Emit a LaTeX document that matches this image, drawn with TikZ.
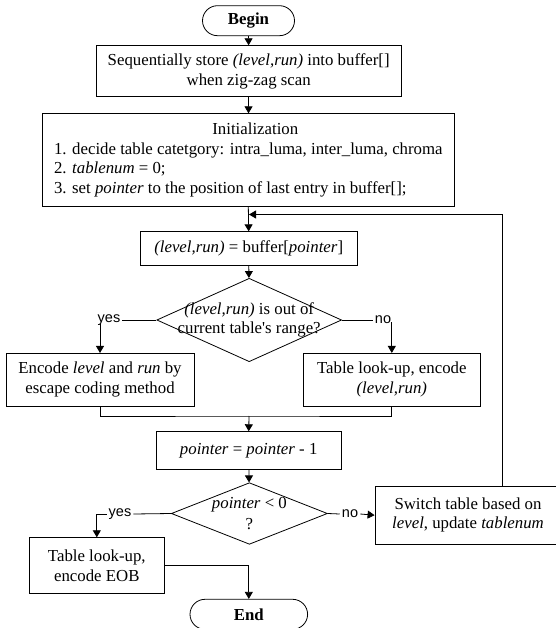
\documentclass[tikz,border=0pt]{standalone}
\usepackage{fontspec}
\setmainfont{Liberation Serif}
\newfontfamily\sansf{Liberation Sans}
\newfontfamily\straightq[Ligatures=TeXOff]{Liberation Serif}
\usetikzlibrary{arrows.meta,shapes.geometric}
\begin{document}
\begin{tikzpicture}[x=1pt,y=-1pt,
  every node/.style={font=\fontsize{16.8}{19.5}\selectfont, inner sep=0pt},
  box/.style={draw, line width=0.8pt, align=center},
  stad/.style={draw, line width=0.8pt, rounded corners=15pt, font=\fontsize{16.8}{19.5}\selectfont\bfseries},
  dia/.style={draw, line width=0.8pt, shape=diamond, inner sep=0pt},
  lbl/.style={font=\sansf\fontsize{14.5}{16}\selectfont},
  conn/.style={line width=0.8pt},
  arr/.style={conn, -{Triangle[length=7pt,width=8pt]}}]
\useasboundingbox (0,0) rectangle (555,628);
\node[stad, minimum width=92pt, minimum height=30pt] (begin) at (248.5,20.7) {Begin};
\node[box, minimum width=304.7pt, minimum height=51pt] (box1) at (248.7,71.2)
  {Sequentially store \textit{(level,run)} into buffer[]\\ when zig-zag scan};
\node[box, minimum width=411.6pt, minimum height=92.3pt] (box2) at (248.3,159.9)
  {\begin{tabular}{@{}l@{}}\multicolumn{1}{c}{\hspace{14pt}Initialization}\\
   1. decide table catetgory: intra\_luma, inter\_luma, chroma\\
   2. \textit{tablenum} = 0;\\
   3. set \textit{pointer} to the position of last entry in buffer[];\end{tabular}};
\node[box, minimum width=217pt, minimum height=33.3pt] (box3) at (248.7,248.4)
  {\textit{(level,run)} = buffer[\textit{pointer}]};
\node[dia, minimum width=184.8pt, minimum height=83.4pt] (d1) at (249.2,320) {};
\node[align=center] (t1) at (d1.center) {\textit{(level,run)} is out of\\ current table{\straightq '}s range?};
\node[box, minimum width=188pt, minimum height=52.7pt] (box4) at (100,379.7)
  {Encode \textit{level} and \textit{run} by\\ escape coding method};
\node[box, minimum width=177pt, minimum height=52.7pt] (box5) at (391.8,379.7)
  {Table look-up, encode\\ \textit{(level,run)}};
\node[box, minimum width=185.1pt, minimum height=37.6pt] (box6) at (248.7,450.5)
  {\textit{pointer} = \textit{pointer} - 1};
\node[dia, minimum width=156.1pt, minimum height=61.6pt] (d2) at (249.4,513.5) {};
\node[align=center] (t2) at (d2.center) {\textit{pointer} {\textless} 0\\[2pt] ?};
\node[box, minimum width=135.6pt, minimum height=55.6pt] (box7) at (96.8,565.5)
  {Table look-up,\\ encode EOB};
\node[stad, minimum width=117.6pt, minimum height=30pt] (end) at (248.8,614.3) {End};
\node[box, minimum width=186pt, minimum height=58.3pt] (box8) at (468,515.2)
  {Switch table based on\\ \textit{level}, update \textit{tablenum}};
% labels
\node[lbl] (yes1) at (109,320) {yes};
\node[lbl] (no1) at (383,320) {no};
\node[lbl] (yes2) at (120,514) {yes};
\node[lbl] (no2) at (350,514) {no};
\coordinate (j) at (249,214.5);
\coordinate (lp) at (502,214.5);
\coordinate (m) at (249,416);
% connectors
\draw[arr] (begin) -- (box1);
\draw[arr] (box1) -- (box2);
\draw[arr] (box2.south) -- (box3.north);
\draw[arr] (box8.north -| lp) -- (lp) -- (j);
\draw[arr] (box3) -- (d1);
\draw[conn] (d1.west) -- ([xshift=2pt]yes1.east);
\draw[arr] ([yshift=2pt]box4.north |- yes1.south) -- (box4.north);
\draw[conn] (d1.east) -- ([xshift=-2pt]no1.west);
\draw[arr] ([yshift=2pt]box5.north |- no1.south) -- (box5.north);
\draw[conn] (box4.south) |- (m) -| (box5.south);
\draw[arr] (m) -- (box6.north);
\draw[arr] (box6) -- (d2);
\draw[conn] (d2.west) -- ([xshift=2pt]yes2.east);
\draw[arr] ([xshift=-2pt]yes2.west) -| (box7.north);
\draw[conn] (d2.east) -- ([xshift=-2pt]no2.west);
\draw[arr] ([xshift=2pt]no2.east) -- (box8.west);
\draw[arr] (box7.east) -| (end.north);
\end{tikzpicture}
\end{document}
